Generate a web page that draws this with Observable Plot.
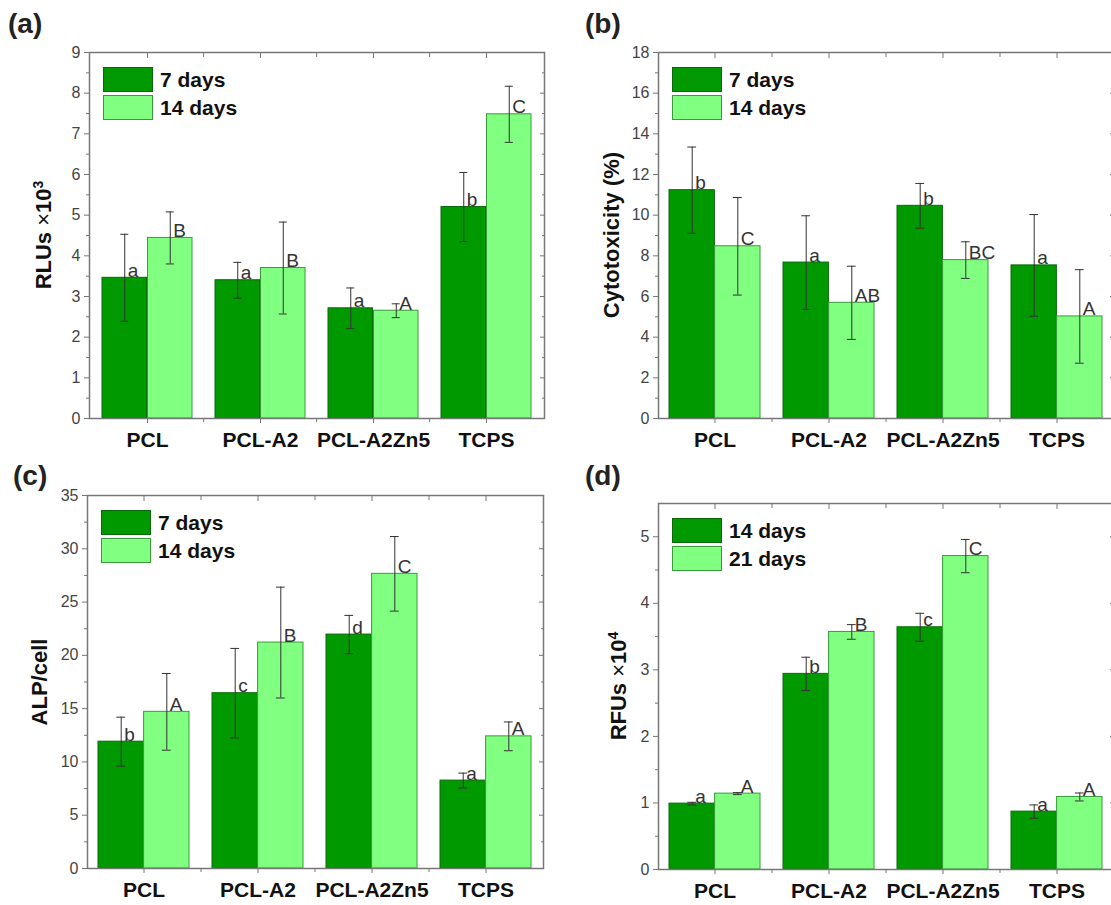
<!DOCTYPE html>
<html>
<head>
<meta charset="utf-8">
<script src="https://cdn.jsdelivr.net/npm/d3@7"></script>
<script src="https://cdn.jsdelivr.net/npm/@observablehq/plot@0.6"></script>
<style>
  html, body { margin: 0; padding: 0; background: #fff; overflow: hidden; }
  body { width: 1111px; height: 905px; position: relative; font-family: "Liberation Sans", Arial, sans-serif; }
  .panel { position: absolute; }
  .panel svg { display: block; overflow: visible; }
  .tag { position: absolute; font-size: 28px; font-weight: bold; color: #222; line-height: 1; }
  .ylab { position: absolute; white-space: nowrap; font-size: 22px; font-weight: bold; color: #111;
          transform: translate(-50%, -50%) rotate(-90deg); line-height: 1; }
  .ylab .x { font-weight: normal; }
  .ylab sup { font-size: 14px; }
  .legend { position: absolute; }
  .legend .row { display: flex; align-items: center; height: 25px; margin-bottom: 3px; }
  .legend .sw { width: 50px; height: 25px; box-sizing: border-box; }
  .legend .lab { font-size: 21px; font-weight: bold; color: #111; margin-left: 7px; }
</style>
</head>
<body>
<script>
// ---------- data ----------
const categories = ["PCL", "PCL-A2", "PCL-A2Zn5", "TCPS"];

// (a) RLUs x10^3
const rluSeries = ["7 days", "14 days"];
const rlu7 = [3.46, 3.40, 2.71, 5.20];
const rlu7Err = [1.07, 0.44, 0.50, 0.85];
const rlu7Letters = ["a", "a", "a", "b"];
const rlu14 = [4.44, 3.70, 2.65, 7.48];
const rlu14Err = [0.64, 1.13, 0.17, 0.69];
const rlu14Letters = ["B", "B", "A", "C"];
const rluTicks = [0, 1, 2, 3, 4, 5, 6, 7, 8, 9];

// (b) Cytotoxicity (%)
const cytoSeries = ["7 days", "14 days"];
const cyto7 = [11.23, 7.67, 10.46, 7.53];
const cyto7Err = [2.12, 2.30, 1.10, 2.50];
const cyto7Letters = ["b", "a", "b", "a"];
const cyto14 = [8.47, 5.69, 7.79, 5.02];
const cyto14Err = [2.40, 1.80, 0.90, 2.30];
const cyto14Letters = ["C", "AB", "BC", "A"];
const cytoTicks = [0, 2, 4, 6, 8, 10, 12, 14, 16, 18];

// (c) ALP/cell
const alpSeries = ["7 days", "14 days"];
const alp7 = [11.9, 16.45, 21.95, 8.25];
const alp7Err = [2.3, 4.2, 1.8, 0.7];
const alp7Letters = ["b", "c", "d", "a"];
const alp14 = [14.7, 21.2, 27.65, 12.4];
const alp14Err = [3.6, 5.2, 3.5, 1.35];
const alp14Letters = ["A", "B", "C", "A"];
const alpTicks = [0, 5, 10, 15, 20, 25, 30, 35];

// (d) RFUs x10^4
const rfuSeries = ["14 days", "21 days"];
const rfu14 = [0.99, 2.94, 3.64, 0.87];
const rfu14Err = [0.02, 0.25, 0.21, 0.10];
const rfu14Letters = ["a", "b", "c", "a"];
const rfu21 = [1.14, 3.57, 4.71, 1.09];
const rfu21Err = [0.015, 0.11, 0.25, 0.06];
const rfu21Letters = ["A", "B", "C", "A"];
const rfuTicks = [0, 1, 2, 3, 4, 5];

// ---------- style ----------
const DARK = "#009a00", DARK_STROKE = "#0a6a0a";
const LIGHT = "#80ff80", LIGHT_STROKE = "#3a9a3a";
const FRAME = "#777";
const FONT = '"Liberation Sans", Arial, sans-serif';

function rows(vals, errs, letters) {
  return categories.map((c, i) => ({cat: c, v: vals[i], e: errs[i], l: letters[i]}));
}

function panel(cfg) {
  const {left, top, W, H, ml, mr, mt, mb, ymax, ticks, s1, s2, series, tag, tagPos, ylab, ylabDx} = cfg;
  const innerW = W - ml - mr;
  const pi = 0.2, po = 0.1;
  const step = innerW / (categories.length - pi + 2 * po);
  const bw = step * (1 - pi);
  const half = bw / 2, q = bw / 4;
  const capInset = (bw - 9) / 2;
  const minor = ticks.slice(1).map((t, i) => (t + ticks[i]) / 2);

  const errMarks = (data, off) => [
    Plot.ruleX(data, {x: "cat", y1: d => d.v - d.e, y2: d => d.v + d.e, dx: off, stroke: "#333", strokeWidth: 1}),
    Plot.tickY(data, {x: "cat", y: d => d.v + d.e, dx: off, insetLeft: capInset, insetRight: capInset, stroke: "#333", strokeWidth: 1}),
    Plot.tickY(data, {x: "cat", y: d => d.v - d.e, dx: off, insetLeft: capInset, insetRight: capInset, stroke: "#333", strokeWidth: 1}),
    Plot.text(data, {x: "cat", y: "v", text: "l", dx: off + 3, dy: -1, textAnchor: "start", lineAnchor: "bottom",
                     fontSize: 19, fill: "#333", fontFamily: FONT})
  ];

  const chart = Plot.plot({
    width: W, height: H,
    marginLeft: ml, marginRight: mr, marginTop: mt, marginBottom: mb,
    style: {fontFamily: FONT, background: "transparent", overflow: "visible"},
    x: {type: "band", domain: categories, paddingInner: pi, paddingOuter: po, label: null},
    y: {domain: [0, ymax], label: null},
    marks: [
      Plot.barY(s1, {x: "cat", y: "v", fill: DARK, stroke: DARK_STROKE, strokeWidth: 1, insetRight: half}),
      Plot.barY(s2, {x: "cat", y: "v", fill: LIGHT, stroke: LIGHT_STROKE, strokeWidth: 1, insetLeft: half}),
      ...errMarks(s1, -q),
      ...errMarks(s2, q),
      Plot.frame({stroke: FRAME, strokeWidth: 1.5}),
      // left axis
      Plot.axisY({ticks, tickFormat: "d", tickSize: 5, tickPadding: 4, fontSize: 16, stroke: FRAME, fill: "#444", label: null}),
      Plot.axisY({ticks: minor, tickSize: 3, stroke: FRAME, fill: "none", label: null}),
      // right axis (inward)
      Plot.axisY({anchor: "right", ticks, tickSize: -5, stroke: FRAME, fill: "none", label: null}),
      Plot.axisY({anchor: "right", ticks: minor, tickSize: -3, stroke: FRAME, fill: "none", label: null}),
      // bottom axis
      Plot.axisX({anchor: "bottom", tickSize: 5, tickPadding: 9, fontSize: 21, fontWeight: "bold", stroke: FRAME, fill: "#111", label: null}),
      Plot.axisX({anchor: "bottom", ticks: categories.slice(1), dx: -step / 2, tickSize: 4, stroke: FRAME, fill: "none", label: null}),
      // top axis (inward)
      Plot.axisX({anchor: "top", tickSize: -5, stroke: FRAME, fill: "none", label: null}),
      Plot.axisX({anchor: "top", ticks: categories.slice(1), dx: -step / 2, tickSize: -4, stroke: FRAME, fill: "none", label: null})
    ]
  });

  const div = document.createElement("div");
  div.className = "panel";
  div.style.left = left + "px";
  div.style.top = top + "px";
  div.style.width = W + "px";
  div.style.height = H + "px";
  div.appendChild(chart);

  const t = document.createElement("div");
  t.className = "tag";
  t.textContent = tag;
  t.style.left = tagPos[0] + "px";
  t.style.top = tagPos[1] + "px";
  div.appendChild(t);

  const yl = document.createElement("div");
  yl.className = "ylab";
  yl.innerHTML = ylab;
  yl.style.left = (ml - ylabDx) + "px";
  yl.style.top = (mt + (H - mt - mb) / 2) + "px";
  div.appendChild(yl);

  const lg = document.createElement("div");
  lg.className = "legend";
  lg.style.left = (ml + 14) + "px";
  lg.style.top = (mt + 15) + "px";
  const cols = [[DARK, DARK_STROKE], [LIGHT, LIGHT_STROKE]];
  series.forEach((s, i) => {
    const r = document.createElement("div");
    r.className = "row";
    const sw = document.createElement("span");
    sw.className = "sw";
    sw.style.background = cols[i][0];
    sw.style.border = "1.5px solid " + cols[i][1];
    const lb = document.createElement("span");
    lb.className = "lab";
    lb.textContent = s;
    r.appendChild(sw);
    r.appendChild(lb);
    lg.appendChild(r);
  });
  div.appendChild(lg);

  document.body.appendChild(div);
}

panel({left: 0, top: 0, W: 555, H: 450, ml: 89, mr: 11, mt: 52, mb: 32, ymax: 9, ticks: rluTicks,
  s1: rows(rlu7, rlu7Err, rlu7Letters), s2: rows(rlu14, rlu14Err, rlu14Letters), series: rluSeries,
  tag: "(a)", tagPos: [8, 10], ylab: 'RLUs <span class="x">×</span>10<sup>3</sup>', ylabDx: 46});

panel({left: 555, top: 0, W: 560, H: 450, ml: 103, mr: 1, mt: 52, mb: 32, ymax: 18, ticks: cytoTicks,
  s1: rows(cyto7, cyto7Err, cyto7Letters), s2: rows(cyto14, cyto14Err, cyto14Letters), series: cytoSeries,
  tag: "(b)", tagPos: [30, 10], ylab: 'Cytotoxicity (%)', ylabDx: 46});

panel({left: 0, top: 450, W: 555, H: 455, ml: 87, mr: 12, mt: 45, mb: 37, ymax: 35, ticks: alpTicks,
  s1: rows(alp7, alp7Err, alp7Letters), s2: rows(alp14, alp14Err, alp14Letters), series: alpSeries,
  tag: "(c)", tagPos: [13, 12], ylab: 'ALP/cell', ylabDx: 47});

panel({left: 555, top: 450, W: 560, H: 455, ml: 103, mr: 1, mt: 53, mb: 36, ymax: 5.5, ticks: rfuTicks,
  s1: rows(rfu14, rfu14Err, rfu14Letters), s2: rows(rfu21, rfu21Err, rfu21Letters), series: rfuSeries,
  tag: "(d)", tagPos: [30, 12], ylab: 'RFUs <span class="x">×</span>10<sup>4</sup>', ylabDx: 40});
</script>
</body>
</html>
